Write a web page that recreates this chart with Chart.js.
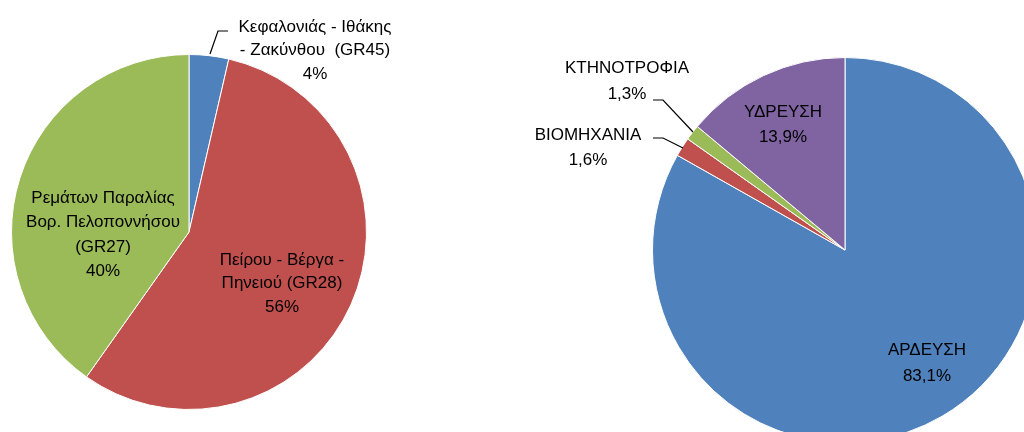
<!DOCTYPE html>
<html><head><meta charset="utf-8">
<script src="https://cdn.jsdelivr.net/npm/chart.js@4/dist/chart.umd.min.js"></script>
<style>
html,body{margin:0;padding:0;background:#fff;}
#wrap{position:relative;width:1024px;height:432px;overflow:hidden;}
canvas{position:absolute;}
#c1{left:0;top:0;}
#c2{left:512px;top:0;}
</style></head><body>
<div id="wrap"><canvas id="c1" width="512" height="432"></canvas><canvas id="c2" width="540" height="460"></canvas></div>
<script>
// Left chart: river basin districts
const basinLabels = ['Κεφαλονιάς - Ιθάκης - Ζακύνθου (GR45)', 'Πείρου - Βέργα - Πηνειού (GR28)', 'Ρεμάτων Παραλίας Βορ. Πελοποννήσου (GR27)'];
const basinLines = [['Κεφαλονιάς - Ιθάκης', '- Ζακύνθου  (GR45)'], ['Πείρου - Βέργα -', 'Πηνειού (GR28)'], ['Ρεμάτων Παραλίας', 'Βορ. Πελοποννήσου', '(GR27)']];
const basinValues = [3.6, 56.2, 40.2];
// Right chart: water uses
const useLabels = ['ΑΡΔΕΥΣΗ', 'ΒΙΟΜΗΧΑΝΙΑ', 'ΚΤΗΝΟΤΡΟΦΙΑ', 'ΥΔΡΕΥΣΗ'];
const useValues = [83.1, 1.6, 1.3, 13.9];

const COLORS4 = ['#4F81BD', '#C0504D', '#9BBB59', '#8064A2'];
const FONT = '17px "Liberation Sans", "DejaVu Sans", sans-serif';

function drawLabels(chart, items, leaders) {
  const ctx = chart.ctx;
  ctx.save();
  ctx.font = FONT;
  ctx.fillStyle = '#000';
  ctx.textAlign = 'center';
  ctx.textBaseline = 'middle';
  items.forEach(it => {
    it.lines.forEach((t, i) => ctx.fillText(t, it.x, it.y + i * it.lh));
  });
  ctx.strokeStyle = '#000';
  ctx.lineWidth = 1.2;
  leaders.forEach(pts => {
    ctx.beginPath();
    pts.forEach((p, i) => i ? ctx.lineTo(p[0], p[1]) : ctx.moveTo(p[0], p[1]));
    ctx.stroke();
  });
  ctx.restore();
}

const basinTotal = basinValues.reduce((a, b) => a + b, 0);
const basinPct = basinValues.map(v => Math.round(v / basinTotal * 100) + '%');

new Chart(document.getElementById('c1'), {
  type: 'pie',
  data: { labels: basinLabels, datasets: [{ data: basinValues, backgroundColor: ['#4F81BD', '#C0504D', '#9BBB59'], borderColor: '#ffffff', borderWidth: 1 }] },
  options: {
    responsive: false, animation: false,
    layout: { padding: { left: 11, top: 54, right: 145, bottom: 22 } },
    plugins: { legend: { display: false }, tooltip: { enabled: false } }
  },
  plugins: [{
    id: 'lbl1',
    afterDraw(chart) {
      drawLabels(chart, [
        { x: 315, y: 27, lh: 23.5, lines: [...basinLines[0], basinPct[0]] },
        { x: 282, y: 260, lh: 23.5, lines: [...basinLines[1], basinPct[1]] },
        { x: 103, y: 198, lh: 24.5, lines: [...basinLines[2], basinPct[2]] }
      ], [[[210, 54], [218, 31], [228, 31]]]);
    }
  }]
});

const usePct = useValues.map(v => v.toFixed(1).replace('.', ',') + '%');
const ox = 512;
new Chart(document.getElementById('c2'), {
  type: 'pie',
  data: { labels: useLabels, datasets: [{ data: useValues, backgroundColor: COLORS4, borderColor: '#ffffff', borderWidth: 1 }] },
  options: {
    responsive: false, animation: false,
    layout: { padding: { left: 140, top: 57, right: 14, bottom: 17 } },
    plugins: { legend: { display: false }, tooltip: { enabled: false } }
  },
  plugins: [{
    id: 'lbl2',
    afterDraw(chart) {
      drawLabels(chart, [
        { x: 927 - ox, y: 350, lh: 26, lines: [useLabels[0], usePct[0]] },
        { x: 588 - ox, y: 135, lh: 25, lines: [useLabels[1], usePct[1]] },
        { x: 627 - ox, y: 68, lh: 26, lines: [useLabels[2], usePct[2]] },
        { x: 783 - ox, y: 112, lh: 25, lines: [useLabels[3], usePct[3]] }
      ], [
        [[653 - ox, 100], [663 - ox, 100], [693 - ox, 132]],
        [[653 - ox, 138], [663 - ox, 138], [683 - ox, 148]]
      ]);
    }
  }]
});
</script>
</body></html>
